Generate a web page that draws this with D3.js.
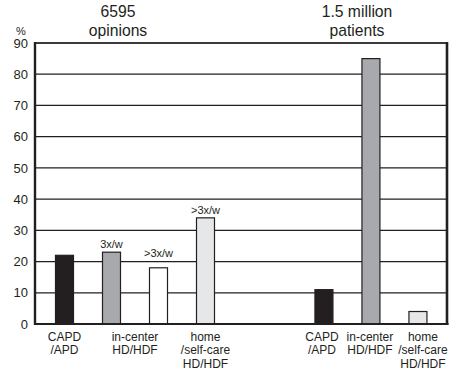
<!DOCTYPE html>
<html><head><meta charset="utf-8">
<script src="https://cdn.jsdelivr.net/npm/d3@7"></script>
<style>
body{margin:0;background:#fff;}
text{font-family:"Liberation Sans",Arial,Helvetica,sans-serif;fill:#231f20;}
</style></head>
<body><svg id="c" width="462" height="379"></svg>
<script>
// ---- data ----
const groupTitles = [["6595", "opinions"], ["1.5 million", "patients"]];
const opinionCategories = [["CAPD", "/APD"], ["in-center", "HD/HDF"], ["home", "/self-care", "HD/HDF"]];
const opinionBars = ["CAPD/APD", "in-center 3x/w", "in-center >3x/w", "home >3x/w"];
const opinionValues = [22, 23, 18, 34];
const opinionNotes = ["", "3x/w", ">3x/w", ">3x/w"];
const patientCategories = [["CAPD", "/APD"], ["in-center", "HD/HDF"], ["home", "/self-care", "HD/HDF"]];
const patientValues = [11, 85, 4];
const yTicks = [0, 10, 20, 30, 40, 50, 60, 70, 80, 90];
const opinionColors = ["#231f20", "#a7a9ac", "#ffffff", "#e6e7e8"];
const patientColors = ["#231f20", "#a7a9ac", "#e6e7e8"];

(function () {
// ---- layout ----
const svg = d3.select("#c");
const pLeft = 35, pRight = 447, pTop = 43, pBottom = 324;
const y = d3.scaleLinear().domain([0, 90]).range([pBottom, pTop]);
// slot positions: left group slots 0..3, right group starts at 5.52
const x = d3.scaleLinear().domain([0, 1]).range([64.5, 111.5]);
const barW = 18;

// gridlines
svg.append("g").selectAll("line").data(yTicks.filter(t => t > 0)).join("line")
  .attr("x1", pLeft).attr("x2", pRight).attr("y1", d => y(d)).attr("y2", d => y(d))
  .attr("stroke", "#231f20").attr("stroke-width", 1.2);

// y axis labels
const yAxis = d3.axisLeft(y).tickValues(yTicks).tickSize(0).tickPadding(7);
const ga = svg.append("g").attr("transform", `translate(${pLeft},0)`).call(yAxis);
ga.select(".domain").remove();
ga.selectAll("text").attr("font-size", 13).style("fill", "#231f20")
  .attr("font-family", "Liberation Sans, Arial, sans-serif");
svg.append("text").attr("x", 21).attr("y", 35).attr("text-anchor", "middle")
  .attr("font-size", 11).text("%");

// bars
const oData = opinionValues.map((v, i) => ({v, i, pos: i, color: opinionColors[i], note: opinionNotes[i]}));
const pData = patientValues.map((v, i) => ({v, i, pos: 5.52 + i, color: patientColors[i], note: ""}));
const all = oData.concat(pData);
svg.append("g").selectAll("rect").data(all).join("rect")
  .attr("x", d => x(d.pos) - barW / 2).attr("width", barW)
  .attr("y", d => y(d.v)).attr("height", d => y(0) - y(d.v))
  .attr("fill", d => d.color).attr("stroke", "#231f20").attr("stroke-width", 1.2);

// notes above bars
const noteGap = d => (d.i === 2 ? 11 : 4);
svg.append("g").selectAll("text").data(oData.filter(d => d.note)).join("text")
  .attr("x", d => x(d.pos)).attr("y", d => y(d.v) - noteGap(d))
  .attr("text-anchor", "middle").attr("font-size", 11).text(d => d.note);

// frame
svg.append("line").attr("x1", pLeft).attr("x2", pRight).attr("y1", y(90)).attr("y2", y(90))
  .attr("stroke", "#231f20").attr("stroke-width", 1.5);
svg.append("line").attr("x1", pLeft - 1).attr("x2", pRight + 1.5).attr("y1", y(0)).attr("y2", y(0))
  .attr("stroke", "#231f20").attr("stroke-width", 2.2);
svg.append("line").attr("x1", pLeft).attr("x2", pLeft).attr("y1", y(90) - 1).attr("y2", y(0) + 1)
  .attr("stroke", "#231f20").attr("stroke-width", 2.4);
svg.append("line").attr("x1", pRight).attr("x2", pRight).attr("y1", y(90) - 1).attr("y2", y(0) + 1)
  .attr("stroke", "#231f20").attr("stroke-width", 2.6);

// category labels
const lineH = 13.8;
function catLabels(cats, centers) {
  cats.forEach((lines, k) => {
    const t = svg.append("text").attr("text-anchor", "middle").attr("font-size", 12);
    lines.forEach((s, j) => {
      t.append("tspan").attr("x", centers[k]).attr("y", 340.5 + j * lineH).text(s);
    });
  });
}
catLabels(opinionCategories, [x(0), (x(1) + x(2)) / 2, x(3)]);
catLabels(patientCategories, [x(5.52) - 2, x(6.52) - 1, x(7.52) + 5]);

// group titles
const titleX = [118, 357];
groupTitles.forEach((lines, k) => {
  lines.forEach((s, j) => {
    svg.append("text").attr("x", titleX[k]).attr("y", 16.5 + j * 19.5)
      .attr("text-anchor", "middle").attr("font-size", 15.7).text(s);
  });
});
})();
</script></body></html>
